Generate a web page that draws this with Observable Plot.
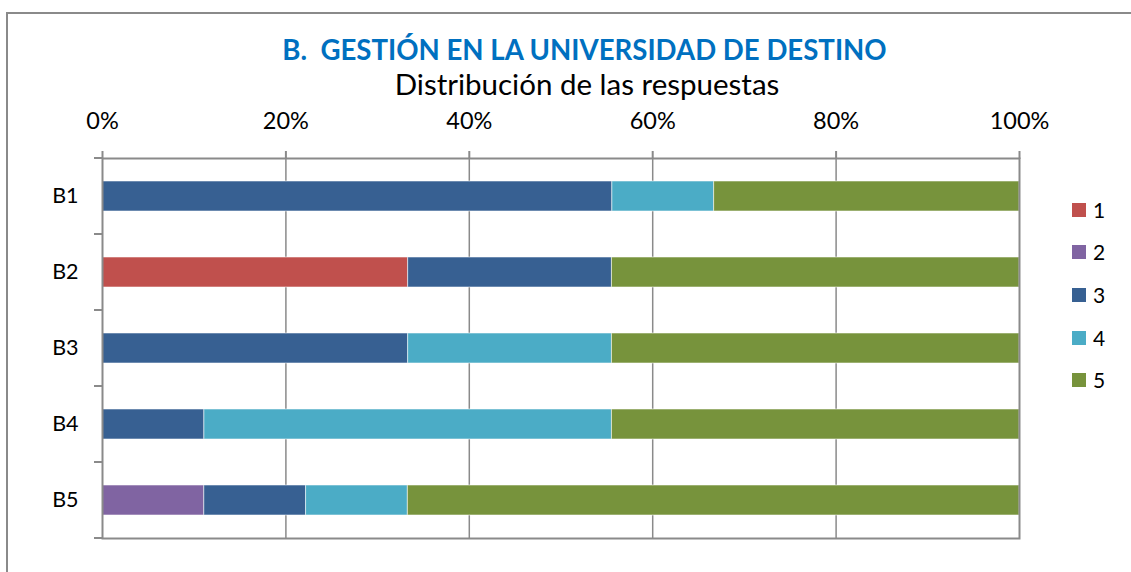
<!DOCTYPE html>
<html>
<head>
<meta charset="utf-8">
<script src="https://cdn.jsdelivr.net/npm/d3@7"></script>
<script src="https://cdn.jsdelivr.net/npm/@observablehq/plot@0.6"></script>
<style>
  html, body { margin: 0; padding: 0; background: #fff; }
  #wrap { position: relative; width: 1131px; height: 572px; overflow: hidden; font-family: Lato, "Open Sans", sans-serif; }
  #border { position: absolute; left: 6px; top: 12px; width: 1200px; height: 700px; border-left: 2px solid #8a8a8a; border-top: 2px solid #8a8a8a; }
  #title { position: absolute; left: 0; width: 1169px; top: 33px; text-align: center; font-weight: bold; font-size: 27.6px; line-height: 34px; color: #0070C0; white-space: nowrap; }
  #subtitle { position: absolute; left: 0; width: 1174px; top: 66px; text-align: center; font-size: 29.5px; line-height: 36px; color: #000; white-space: nowrap; }
  #legend { position: absolute; left: 1072px; top: 0; }
  .li { position: absolute; left: 0; width: 60px; height: 14px; }
  .sw { position: absolute; left: 0; top: 0; width: 14px; height: 14px; }
  .lt { position: absolute; left: 21px; top: -4px; font-size: 21px; line-height: 22px; color: #000; white-space: nowrap; }
  #chart { position: absolute; left: 0; top: 0; }
</style>
</head>
<body>
<div id="wrap">
  <div id="border"></div>
  <div id="chart"></div>
  <div id="title">B.&nbsp; GESTIÓN EN LA UNIVERSIDAD DE DESTINO</div>
  <div id="subtitle">Distribución de las respuestas</div>
  <div id="legend"></div>
</div>
<script>
// ---- data ----
const categories = ["B1", "B2", "B3", "B4", "B5"];
const levels = ["1", "2", "3", "4", "5"];
const colors = ["#C0504D", "#8064A2", "#376092", "#4BACC6", "#77933C"];
// percentage of responses for each level, per category (B1..B5)
const level1 = [0, 33.3, 0, 0, 0];
const level2 = [0, 0, 0, 0, 11.1];
const level3 = [55.6, 22.2, 33.3, 11.1, 11.1];
const level4 = [11.1, 0, 22.2, 44.4, 11.1];
const level5 = [33.3, 44.4, 44.4, 44.4, 66.7];
const xTicks = [0, 0.2, 0.4, 0.6, 0.8, 1];

const series = [level1, level2, level3, level4, level5];
const rows = [];
levels.forEach((lv, i) => {
  categories.forEach((c, j) => rows.push({cat: c, level: lv, value: series[i][j]}));
});

const gray = "#8a8a8a";
const plot = Plot.plot({
  width: 1131,
  height: 572,
  marginLeft: 102,
  marginRight: 112,
  marginTop: 158,
  marginBottom: 34,
  style: {fontFamily: "Lato, 'Open Sans', sans-serif", background: "transparent", color: "#000"},
  x: {domain: [0, 1]},
  y: {domain: categories, paddingInner: 0.6, paddingOuter: 0.3},
  color: {domain: levels, range: colors},
  marks: [
    Plot.ruleX([0.2, 0.4, 0.6, 0.8], {stroke: gray, strokeWidth: 1.5}),
    Plot.barX(rows, Plot.stackX({
      x: "value", y: "cat", fill: "level", order: levels, offset: "normalize",
      stroke: "#ffffff", strokeOpacity: 0.55, strokeWidth: 1
    })),
    Plot.frame({stroke: gray, strokeWidth: 2}),
    Plot.axisX({anchor: "top", ticks: xTicks, tickFormat: d3.format(".0%"), tickSize: 8, tickPadding: 22, fontSize: 23.5, stroke: gray, strokeWidth: 2, strokeOpacity: 1, label: null}),
    Plot.axisY({anchor: "left", tickSize: 0, tickPadding: 24, fontSize: 21.5, label: null})
  ]
});
document.getElementById("chart").appendChild(plot);

// category boundary ticks on the left axis, from the plot's own y scale
const ys = plot.scale("y");
const gap = (ys.step - ys.bandwidth) / 2;
const bounds = categories.map(c => ys.apply(c) - gap);
bounds.push(ys.apply(categories[categories.length - 1]) + ys.bandwidth + gap);
const xs = plot.scale("x");
const x0 = xs.apply(0);
d3.select(plot).append("g")
  .selectAll("line").data(bounds).join("line")
  .attr("x1", x0 - 8).attr("x2", x0)
  .attr("y1", d => d).attr("y2", d => d)
  .attr("stroke", gray).attr("stroke-width", 2);

// legend
const legend = document.getElementById("legend");
const legendY = [210, 252, 295, 338, 380];
levels.forEach((lv, i) => {
  const item = document.createElement("div");
  item.className = "li";
  item.style.top = (legendY[i] - 7) + "px";
  item.innerHTML = `<span class="sw" style="background:${colors[i]}"></span><span class="lt">${lv}</span>`;
  legend.appendChild(item);
});
</script>
</body>
</html>
